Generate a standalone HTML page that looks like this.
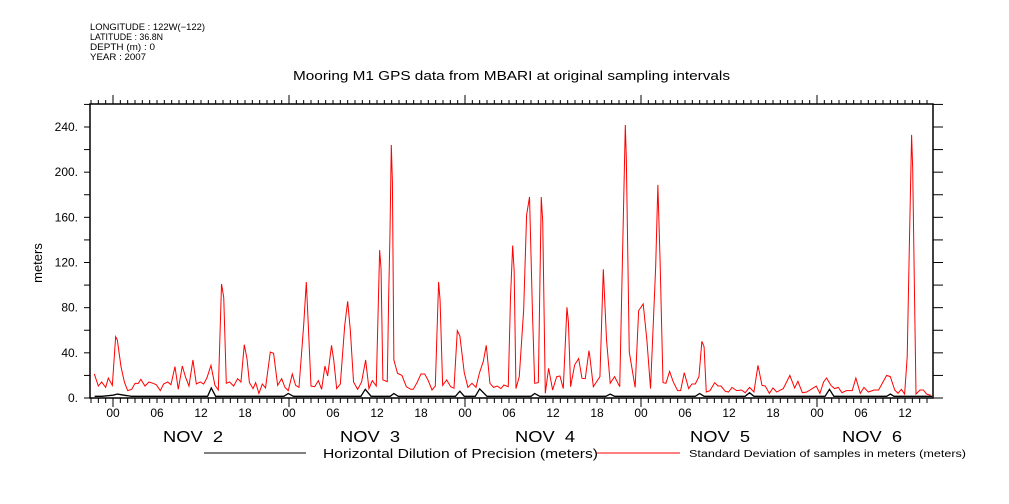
<!DOCTYPE html>
<html><head><meta charset="utf-8"><style>
body{margin:0;background:#fff;}
svg{display:block;font-family:"Liberation Sans",sans-serif;}
</style></head><body>
<svg id="chart" width="1009" height="504" viewBox="0 0 1009 504" xmlns="http://www.w3.org/2000/svg">
<g font-size="9" fill="#000">
<text x="90" y="30" textLength="115" lengthAdjust="spacingAndGlyphs">LONGITUDE : 122W(−122)</text>
<text x="90" y="40" textLength="73" lengthAdjust="spacingAndGlyphs">LATITUDE : 36.8N</text>
<text x="90" y="50" textLength="65" lengthAdjust="spacingAndGlyphs">DEPTH (m) : 0</text>
<text x="90" y="60" textLength="56" lengthAdjust="spacingAndGlyphs">YEAR : 2007</text>
</g>
<text x="293" y="80" font-size="13" textLength="437" lengthAdjust="spacingAndGlyphs">Mooring M1 GPS data from MBARI at original sampling intervals</text>
<text x="42" y="263" font-size="13" text-anchor="middle" transform="rotate(-90 42 263)">meters</text>
<g id="axes"></g>
<g id="series"></g>
<g>
<line x1="204" y1="453" x2="306" y2="453" stroke="#000" stroke-width="1"/>
<text x="323" y="458" font-size="13" textLength="275" lengthAdjust="spacingAndGlyphs">Horizontal Dilution of Precision (meters)</text>
<line x1="597" y1="453" x2="680" y2="453" stroke="#f00" stroke-width="1"/>
<text x="689" y="457" font-size="10" textLength="277" lengthAdjust="spacingAndGlyphs">Standard Deviation of samples in meters (meters)</text>
</g>
</svg>
<script>
const redHours=[-2.55,-2.0,-1.55,-1.0,-0.64,-0.09,0.36,0.59,1.09,1.55,2.0,2.55,3.0,3.45,3.8,4.36,4.9,5.45,5.9,6.45,6.9,7.45,7.9,8.45,8.9,9.45,9.9,10.36,10.9,11.36,11.9,12.36,12.8,13.36,13.9,14.36,14.8,15.1,15.45,15.9,16.45,17.0,17.45,17.9,18.27,18.6,19.1,19.45,19.9,20.36,20.8,21.45,21.9,22.45,23.0,23.45,23.9,24.45,24.9,25.36,26.0,26.36,26.6,27.0,27.5,28.0,28.45,28.9,29.27,29.8,30.1,30.5,31.0,31.6,32.0,32.36,32.8,33.36,33.9,34.45,34.9,35.36,35.9,36.36,36.55,36.8,37.4,37.6,37.77,37.95,38.1,38.3,38.8,39.4,40.0,40.6,40.95,41.5,42.0,42.5,42.95,43.5,43.95,44.4,44.6,44.95,45.5,46.05,46.5,46.95,47.3,47.9,48.4,48.95,49.5,49.95,50.5,50.9,51.4,51.9,52.4,52.9,53.3,53.9,54.2,54.5,54.7,54.95,55.4,56.0,56.4,56.8,57.2,57.5,58.0,58.4,58.6,58.95,59.4,59.95,60.5,60.95,61.4,61.9,62.1,62.4,62.95,63.5,63.95,64.4,64.9,65.0,65.5,66.4,66.86,67.3,67.8,68.4,69.1,69.86,70.0,70.4,71.2,71.68,72.3,72.8,73.3,74.0,74.3,74.6,75.0,75.4,75.9,76.4,77.0,77.4,77.9,78.5,78.95,79.4,79.9,80.3,80.6,80.9,81.4,82.05,82.5,82.9,83.5,83.95,84.4,85.05,85.7,86.2,86.8,87.4,87.95,88.5,88.95,89.5,90.0,90.5,91.4,92.3,92.95,93.4,94.0,94.6,95.9,96.4,96.9,97.3,97.9,98.4,98.9,99.4,100.0,100.8,101.3,101.9,102.4,103.0,103.8,104.4,105.5,106.0,106.6,107.05,107.5,107.95,108.3,108.6,108.9,109.05,109.3,109.5,110.05,110.5,110.95,111.5];
const redValues=[21.3,10.6,14.2,9.4,17.7,11.2,54.3,51.4,27.8,14.2,6.5,7.7,13,13,16.5,10.6,14.2,13,11.8,6.5,12.4,14.2,11.8,27.8,7.7,28.3,18.3,10.6,33.7,12.4,14.2,12.4,17.7,28.9,11.2,7.1,101,89,13,14.2,10.6,17.1,14.2,47.2,34.8,13.6,8.3,13.6,4.1,12.4,8.9,40.7,39.6,11.2,17.1,9.4,6.5,21.3,11.2,9.4,64.4,102.7,69,10.6,10,15.4,7.7,28.3,19.5,46.6,33.7,8.3,12.4,64.4,85.6,60.2,14.2,7.7,14.2,33.7,8.3,15.4,10.6,131,114.6,16,14.5,92.7,145.8,224,191.6,33.7,21.8,20,10,7.7,7.7,14.2,21.3,21.3,16,7.1,10.6,102.7,86.8,11.2,16,10,8.6,59.6,55,22.4,9.4,13,9.4,21.8,32.5,46.6,13,9.4,10.6,8.3,11.5,10,88,135,113,8.3,18.9,78,162,178,75.6,13,13.6,178,156,4.1,26.3,7.1,18.9,19.5,8.3,80.3,67.6,10,29.2,35,17.4,17.1,41.9,38,10,18.9,114,51.4,13,18.9,10,241.8,212,40.7,9.4,77.4,83.3,51.4,8.3,116,188.7,122,13.6,13,23.6,14.2,6.5,6.5,22.4,8.3,12.4,12.4,18.9,50.2,45.5,5.3,6.5,13.6,10.6,10.6,5.9,5.3,9.4,6.5,7.1,4.7,9.4,5.3,28.9,11.2,10.6,4.1,8.9,5.3,8.3,20,8.9,14.8,4.7,5.3,10.6,4.1,14.2,17.7,11.2,8.3,9.4,4.7,6.5,6.5,17.7,4.1,9.4,5.3,7.1,7.1,20,18.9,7.1,4.1,7.7,3.5,36.6,137,233,203,89.8,3.5,7.1,7.1,3.5,2.4];
const blackHours=[-2.5,-1.5,0,0.6,1.5,2.5,10,12.9,13.4,14,23.3,23.9,24.6,33.8,34.4,35.2,37.8,38.3,38.9,46.7,47.3,47.9,49.4,50,51,57,57.5,58.2,67.2,67.8,68.4,79.4,80,80.6,86.2,86.8,87.4,97.1,97.7,98.3,105.5,106,106.5,111.7];
const blackValues=[1.5,1.5,2.5,3.5,2.5,1.5,1.5,1.5,8.9,1.5,1.5,4,1.5,1.5,7.7,1.5,1.5,4,1.5,1.5,6,1.5,1.5,8,1.5,1.5,4,1.5,1.5,3.5,1.5,1.5,4,1.5,1.5,4.7,1.5,1.5,7.7,1.5,1.5,3.5,1.5,1.5];
const yTicks=[0,40,80,120,160,200,240];
const hourLabels=["00","06","12","18"];
const dayLabels=["NOV  2","NOV  3","NOV  4","NOV  5","NOV  6"];
const dayLabelX=[193,370,545,720,872];

const NS="http://www.w3.org/2000/svg";
const X0=90,X1=933,Y0=398,Y1=104;
const H0=-3,H1=(X1-113)/(176/24);
function xs(h){return 113+h*176/24;}
function ys(v){return Y0-(v/240)*(Y0-127);}
function mk(tag,attrs,parent){const e=document.createElementNS(NS,tag);for(const k in attrs)e.setAttribute(k,attrs[k]);parent.appendChild(e);return e;}
const axes=document.getElementById('axes');
const fr=mk('rect',{x:X0,y:Y1,width:X1-X0,height:Y0-Y1,fill:'none',stroke:'#000','stroke-width':1.5},axes);


for(let v=0;v<=260;v+=20){const y=ys(v);if(y<Y1)break;
 const t1=mk('line',{x1:X0-6,x2:X0,y1:y,y2:y,stroke:'#000'},axes);
 
 
 const t2=mk('line',{x1:X1,x2:X1+10,y1:y,y2:y,stroke:'#000'},axes);
 
 }
yTicks.forEach(v=>{const t=mk('text',{x:X0-12,y:ys(v)+4,'font-size':12,'text-anchor':'end'},axes);t.textContent=v+'.';
 
 });
for(let h=Math.ceil(H0);h<=H1;h++){const x=xs(h);const day=((h%24)+24)%24===0;
 const b=mk('line',{x1:x,x2:x,y1:Y0,y2:Y0+(day?9:5),stroke:'#000'},axes);
 
 
 const t=mk('line',{x1:x,x2:x,y1:Y1-(day?9:4),y2:Y1,stroke:'#000'},axes);
 
 
 if(((h%6)+6)%6===0){const l=mk('text',{x:x,y:417,'font-size':12,'text-anchor':'middle'},axes);l.textContent=hourLabels[(((h%24)+24)%24)/6];
  
  }}
dayLabels.forEach((d,i)=>{const t=mk('text',{x:dayLabelX[i]-30,y:442,'font-size':16,textLength:60,lengthAdjust:'spacingAndGlyphs'},axes);t.textContent=d;t.style.whiteSpace='pre';
 
 });
const ser=document.getElementById('series');
function line(hs,vs,color,name,w){const p=mk('polyline',{points:hs.map((h,i)=>xs(h)+','+ys(vs[i])).join(' '),fill:'none',stroke:color,'stroke-width':w},ser);
 
 }
line(blackHours,blackValues,'#000','hdop-line',1.3);
line(redHours,redValues,'#f00','stddev-line',1);
</script>
</body></html>
